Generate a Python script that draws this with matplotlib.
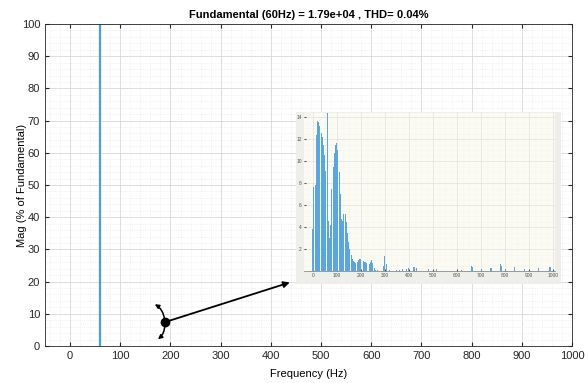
import numpy as np
import matplotlib.pyplot as plt
from matplotlib.patches import Rectangle, FancyArrowPatch
from matplotlib.ticker import MultipleLocator

plt.rcParams['font.family'] = ['Liberation Sans Narrow', 'Liberation Sans', 'DejaVu Sans']

# ---------------------------------------------------------------------------
# Datos
# ---------------------------------------------------------------------------
fundamental_hz = 60
fundamental_mag = 100

# Espectro del zoom (magnitud en % del fundamental)
freq_bajas = [0, 5, 10, 15, 20, 25, 30, 35, 40, 45, 50, 55, 60, 65, 70, 75,
              80, 85, 90, 95, 100, 105, 110, 115, 120, 125, 130, 135, 140,
              145, 150, 155, 160, 165, 170, 175, 180, 185, 190, 195, 200,
              205, 210, 215, 220, 225, 230, 235, 240, 245, 250, 255]
mag_bajas = [3.8, 7.7, 7.8, 12.4, 13.7, 13.6, 13.2, 12.6, 12.2, 11.5, 10.6,
             9.1, 14.4, 4.6, 3.0, 4.2, 7.5, 9.5, 10.8, 11.5, 11.7, 11.0, 9.0,
             7.0, 4.7, 4.6, 5.2, 5.2, 4.5, 3.5, 2.6, 2.0, 1.5, 1.1, 0.9, 0.8,
             0.7, 0.8, 1.0, 1.1, 1.1, 1.0, 0.9, 0.8, 0.8, 0.7, 0.7, 0.6, 0.8,
             1.0, 0.7, 0.3]
freq_altas = [260, 270, 295, 300, 305, 320, 350, 360, 375, 390, 400, 420,
              425, 430, 480, 515, 620, 660, 665, 700, 740, 745, 780, 785,
              800, 840, 880, 940, 985, 990]
mag_altas = [0.05, 0.05, 0.5, 1.4, 0.6, 0.1, 0.1, 0.1, 0.15, 0.2, 0.25, 0.35,
             0.35, 0.3, 0.2, 0.2, 0.1, 0.5, 0.4, 0.2, 0.3, 0.3, 0.6, 0.5,
             0.2, 0.4, 0.2, 0.25, 0.4, 0.4]

titulo = "Fundamental (60Hz) = 1.79e+04 , THD= 0.04%"

# ---------------------------------------------------------------------------
# Figura principal
# ---------------------------------------------------------------------------
fig = plt.figure(figsize=(5.88, 3.83), dpi=100)
W, H = 588, 383


def caja(x0, y0, x1, y1):
    return [x0 / W, 1 - y1 / H, (x1 - x0) / W, (y1 - y0) / H]


ax = fig.add_axes(caja(45, 24, 572, 346))
ax.plot([fundamental_hz, fundamental_hz], [0, fundamental_mag],
        color="#45a0e0", lw=1.6, solid_capstyle="butt")
ax.set_xlim(-50, 1000)
ax.set_ylim(0, 100)
ax.xaxis.set_major_locator(MultipleLocator(100))
ax.yaxis.set_major_locator(MultipleLocator(10))
ax.xaxis.set_minor_locator(MultipleLocator(20))
ax.yaxis.set_minor_locator(MultipleLocator(2))
ax.grid(which="major", color="#d8d8d8", lw=0.6)
ax.grid(which="minor", color="#e8e8e8", lw=0.5, linestyle=":")
ax.set_axisbelow(True)
ax.tick_params(which="both", direction="in", top=True, right=True,
               labelsize=8, colors="#262626", length=3)
ax.tick_params(which="minor", length=0)
for s in ax.spines.values():
    s.set_color("#262626")
    s.set_linewidth(0.6)
ax.set_title(titulo, fontsize=8, fontweight="bold", pad=4)
ax.set_xlabel("Frequency (Hz)", fontsize=8)
ax.set_ylabel("Mag (% of Fundamental)", fontsize=8)
ax.xaxis.set_label_coords(0.5, -0.072)
ax.yaxis.set_label_coords(-0.034, 0.5)

# ---------------------------------------------------------------------------
# Recuadro con el detalle del espectro
# ---------------------------------------------------------------------------
fig.patches.append(Rectangle((296 / W, 1 - 284 / H), 265 / W, 172 / H,
                             transform=fig.transFigure, facecolor="#eeeeea",
                             edgecolor="none", zorder=3))
axin = fig.add_axes(caja(304, 113, 555, 271), zorder=4)
axin.set_facecolor("#fbfbf3")
axin.bar(freq_bajas + freq_altas, mag_bajas + mag_altas, width=4,
         color="#5aa6e2", edgecolor="none")
axin.set_xlim(-36, 1007)
axin.set_ylim(0, 14.4)
axin.xaxis.set_major_locator(MultipleLocator(100))
axin.xaxis.set_minor_locator(MultipleLocator(25))
axin.yaxis.set_minor_locator(MultipleLocator(0.5))
axin.set_yticks([2, 4, 6, 8, 10, 12, 14])
axin.grid(which="major", color="#e2e2d8", lw=0.5)
axin.grid(which="minor", color="#efefe6", lw=0.4, linestyle=":")
axin.set_axisbelow(True)
axin.tick_params(which="both", direction="in", labelsize=3.5,
                 colors="#555555", length=1.5, pad=1.5)
axin.tick_params(which="minor", length=0)
for s in ["top", "right", "left"]:
    axin.spines[s].set_visible(False)
axin.spines["bottom"].set_color("#777777")
axin.spines["bottom"].set_linewidth(0.5)

# ---------------------------------------------------------------------------
# Flechas
# ---------------------------------------------------------------------------
punto = (188.6, 7.4)
ax.plot(*punto, "o", color="black", ms=6, zorder=5)
ax.add_patch(FancyArrowPatch(punto, (443, 20.0), arrowstyle="-|>",
                             mutation_scale=9, color="black", lw=1.3,
                             zorder=5))
ax.add_patch(FancyArrowPatch(punto, (164, 13.4), arrowstyle="-|>",
                             connectionstyle="arc3,rad=0.3",
                             mutation_scale=6, color="black", lw=1.1,
                             zorder=5))
ax.add_patch(FancyArrowPatch(punto, (170.6, 1.6), arrowstyle="-|>",
                             connectionstyle="arc3,rad=-0.3",
                             mutation_scale=6, color="black", lw=1.1,
                             zorder=5))

plt.savefig("out.png", dpi=100)
plt.close()
